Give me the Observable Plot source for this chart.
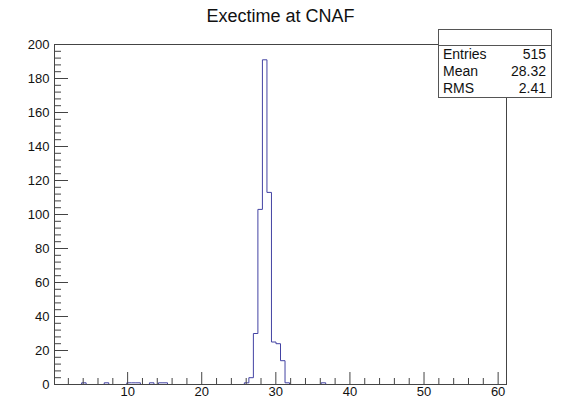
<!DOCTYPE html>
<html>
<head>
<meta charset="utf-8">
<script src="https://cdn.jsdelivr.net/npm/d3@7"></script>
<script src="https://cdn.jsdelivr.net/npm/@observablehq/plot@0.6"></script>
<style>
  body { margin: 0; background: #fff; }
  #wrap { position: relative; width: 562px; height: 398px; font-family: "Liberation Sans", Arial, sans-serif; }
  #stats { position: absolute; left: 438px; top: 29px; width: 114px; height: 69px; border: 1px solid #555;
           background: #fff; box-sizing: border-box; font-size: 14px; color: #111; }
  #stats .head { height: 15px; border-bottom: 1px solid #555; }
  #stats .row { display: flex; justify-content: space-between; padding: 0 5px 0 4px; height: 17px; line-height: 17px; }
</style>
</head>
<body>
<div id="wrap"></div>
<script>
// ---- data ----
const title = "Exectime at CNAF";
const xMin = 0.13;
const xMax = 61.13;
const counts = [
  0,0,0,0,0,0,1,0,0,0,
  0,1,0,0,0,0,1,1,1,0,
  0,1,0,1,1,0,0,0,0,0,
  0,0,0,0,0,0,0,0,0,0,
  0,0,1,4,30,103,191,113,25,24,
  14,1,0,0,0,0,0,0,0,1,
  0,0,0,0,0,0,0,0,0,0,
  0,0,0,0,0,0,0,0,0,0,
  0,0,0,0,0,0,0,0,0,0,
  0,0,0,0,0,0,0,0,0,0
];
const statLabels = ["Entries", "Mean", "RMS"];
const statValues = ["515", "28.32", "2.41"];
const xMajorTicks = [10, 20, 30, 40, 50, 60];
const xMinorTicks = [2,4,6,8,12,14,16,18,22,24,26,28,32,34,36,38,42,44,46,48,52,54,56,58];
const yMajorTicks = [0, 20, 40, 60, 80, 100, 120, 140, 160, 180, 200];
const yMinorTicks = [4,8,12,16,24,28,32,36,44,48,52,56,64,68,72,76,84,88,92,96,104,108,112,116,124,128,132,136,144,148,152,156,164,168,172,176,184,188,192,196];

// step outline from bin edges
const binWidth = (xMax - xMin) / counts.length;
const steps = counts.map((c, k) => ({x: xMin + k * binWidth, y: c}));
steps.push({x: xMax, y: 0});

const axisColor = "#444";
const chart = Plot.plot({
  width: 562,
  height: 398,
  marginLeft: 54,
  marginRight: 56,
  marginTop: 44,
  marginBottom: 14,
  x: {domain: [xMin, xMax], axis: null},
  y: {domain: [0, 200], axis: null},
  style: {fontFamily: "'Liberation Sans', Arial, sans-serif", fontSize: "13px", color: "#111", background: "#fff"},
  marks: [
    Plot.line(steps, {x: "x", y: "y", curve: "step-after", stroke: "#4343a3", strokeWidth: 1}),
    Plot.axisX({ticks: xMajorTicks, tickSize: 0, tickPadding: 2, fontSize: 13, label: null}),
    Plot.axisX({ticks: xMajorTicks, tickSize: -12, tickFormat: () => "", stroke: axisColor, label: null}),
    Plot.axisX({ticks: xMinorTicks, tickSize: -6, tickFormat: () => "", stroke: axisColor, label: null}),
    Plot.axisY({ticks: yMajorTicks, tickSize: 0, tickPadding: 5, fontSize: 13, label: null}),
    Plot.axisY({ticks: yMajorTicks, tickSize: -14, tickFormat: () => "", stroke: axisColor, label: null}),
    Plot.axisY({ticks: yMinorTicks, tickSize: -7, tickFormat: () => "", stroke: axisColor, label: null}),
    Plot.frame({stroke: axisColor}),
    Plot.text([title], {frameAnchor: "top", lineAnchor: "bottom", dy: -23, fontSize: 18, fill: "#111"})
  ]
});

const wrap = document.getElementById("wrap");
wrap.appendChild(chart);

const stats = document.createElement("div");
stats.id = "stats";
let html = '<div class="head"></div>';
statLabels.forEach((l, i) => { html += `<div class="row"><span>${l}</span><span>${statValues[i]}</span></div>`; });
stats.innerHTML = html;
wrap.appendChild(stats);
</script>
</body>
</html>
